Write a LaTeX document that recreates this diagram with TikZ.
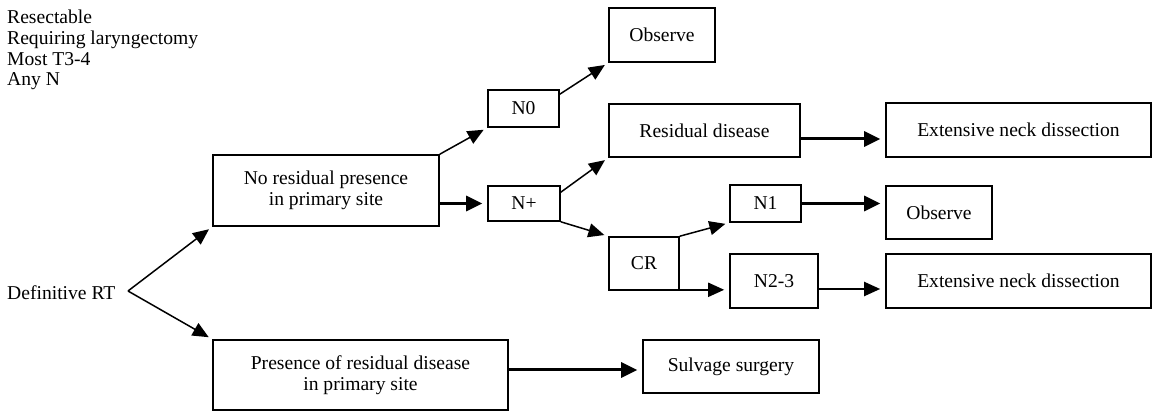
\documentclass[tikz,border=0pt]{standalone}
\usepackage{fontspec}
\setmainfont{Liberation Serif}
\usetikzlibrary{arrows.meta,calc}
\begin{document}
\begin{tikzpicture}[x=1pt,y=-1pt,
  every node/.style={font=\fontsize{19.6}{21.5}\selectfont, text=black},
  box/.style={draw, line width=1.6pt, inner sep=0pt, align=center},
  arr/.style={line width=1.5pt, -{Triangle[length=16pt,width=14pt]}, shorten >=4pt},
  marr/.style={line width=2pt, -{Triangle[length=16pt,width=14pt]}, shorten >=5pt},
  tarr/.style={line width=3pt, -{Triangle[length=16pt,width=15pt]}, shorten >=5pt}]
\useasboundingbox (0,0) rectangle (1154,411);

\node[anchor=north west, inner sep=0pt, align=left, font=\fontsize{19.6}{20.7}\selectfont] (intro) at (7,10)
  {Resectable\\Requiring laryngectomy\\Most T3-4\\Any N};

\node[anchor=west, inner sep=0pt] (def) at (7,293) {Definitive RT};
\coordinate (v) at (128,291);

\node[box, minimum width=106, minimum height=54] (obs1) at (662,35) {Observe};
\node[box, minimum width=71, minimum height=37] (n0) at (523.5,108.5) {N0};
\node[box, minimum width=191, minimum height=53] (resid) at (704.5,130.5) {Residual disease};
\node[box, minimum width=265, minimum height=54] (ext1) at (1018.5,130) {Extensive neck dissection};
\node[box, minimum width=226, minimum height=71] (nores) at (326,190.5) {No residual presence\\in primary site};
\node[box, minimum width=72, minimum height=35] (nplus) at (524,203.5) {N+};
\node[box, minimum width=71, minimum height=37] (n1) at (765.5,203.5) {N1};
\node[box, minimum width=106, minimum height=53] (obs2) at (939,212.5) {Observe};
\node[box, minimum width=70, minimum height=53] (cr) at (644,263.5) {CR};
\node[box, minimum width=88, minimum height=54] (n23) at (774,281) {N2-3};
\node[box, minimum width=265, minimum height=54] (ext2) at (1018.5,281) {Extensive neck dissection};
\node[box, minimum width=295, minimum height=70] (pres) at (360.5,375) {Presence of residual disease\\in primary site};
\node[box, minimum width=176, minimum height=53] (sulv) at (731,366.5) {Sulvage surgery};

% Definitive RT fork
\draw[arr] (v) -- (nores.south west);
\draw[arr] (v) -- (pres.north west);

% upper branch
\draw[arr] (nores.north east) -- (n0.south west);
\draw[arr] ($(n0.north east)+(0,5)$) -- (obs1.south west);
\draw[tarr] (nores.east |- nplus.west) -- (nplus.west);
\draw[arr] ($(nplus.north east)+(0,7)$) -- (resid.south west);
\draw[arr] (nplus.south east) -- (cr.north west);
\draw[tarr] ($(resid.east)+(0,8.5)$) coordinate (r1) -- (ext1.west |- r1);
\draw[arr] (cr.north east) -- (n1.south west);
\draw[marr] ($(cr.south east)+(0,-1)$) coordinate (c1) -- (n23.west |- c1);
\draw[tarr] (n1.east) -- (obs2.west |- n1.east);
\draw[marr] ($(n23.east)+(0,8)$) coordinate (m1) -- (ext2.west |- m1);

% lower branch
\draw[tarr] ($(pres.east)+(0,-5)$) coordinate (p1) -- (sulv.west |- p1);
\end{tikzpicture}
\end{document}
